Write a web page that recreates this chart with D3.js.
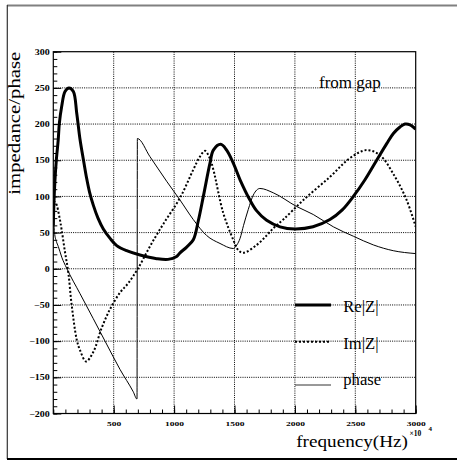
<!DOCTYPE html>
<html>
<head>
<meta charset="utf-8">
<script src="https://cdn.jsdelivr.net/npm/d3@7"></script>
<style>
  html, body { margin: 0; padding: 0; background: #fff; }
  svg { display: block; }
  text { font-family: "Liberation Serif", "DejaVu Serif", serif; fill: #000; }
</style>
</head>
<body>
<svg id="chart" width="457" height="460"></svg>
<script>
// ---------------- data ----------------
const reFreq = [0, 5, 14, 25, 41, 50, 69, 97, 130, 166, 194, 221, 250, 276, 300, 331, 370, 414, 470, 525, 607, 718, 856, 950, 1021, 1049, 1104, 1159, 1200, 1242, 1297, 1325, 1386, 1435, 1490, 1546, 1628, 1684, 1766, 1877, 2001, 2150, 2290, 2390, 2484, 2580, 2677, 2760, 2815, 2870, 2911, 2953, 3000];
const reVal  = [60, 90, 123, 150, 179, 201, 224, 245, 250, 245, 215, 179, 150, 125, 106, 88, 70, 55, 42, 32, 25, 19, 14, 13, 17, 22, 30, 40, 66, 100, 146, 164, 172, 164, 146, 123, 95, 80, 67, 58, 55, 58, 68, 81, 100, 123, 150, 173, 187, 196, 200, 199, 193];

const imFreq = [0, 14, 28, 50, 69, 95, 124, 152, 194, 220, 271, 331, 400, 469, 552, 620, 703, 800, 911, 1049, 1159, 1214, 1256, 1297, 1325, 1407, 1490, 1530, 1573, 1684, 1766, 1821, 1904, 2070, 2290, 2456, 2594, 2704, 2829, 2925, 3000];
const imVal  = [92, 92, 88, 72, 54, 25, -5, -50, -98, -112, -128, -115, -82, -56, -33, -20, 1, 31, 62, 98, 137, 155, 163, 152, 137, 77, 40, 26, 22, 33, 46, 56, 68, 95, 127, 153, 164, 157, 127, 95, 58];

const phFreq = [0, 4, 10, 25, 41, 70, 110, 220, 331, 441, 552, 662, 693, 696, 800, 938, 1049, 1159, 1269, 1380, 1490, 1520, 1546, 1575, 1614, 1656, 1711, 1821, 2015, 2152, 2318, 2484, 2649, 2814, 3000];
const phVal  = [95, 70, 50, 38, 31, 16, 1, -34, -69, -104, -139, -170, -180, 180, 155, 121, 95, 68, 46, 35, 28, 33, 42, 60, 82, 102, 111, 105, 86, 75, 58, 45, 33, 25, 21];

const xMajorTicks = [500, 1000, 1500, 2000, 2500, 3000];
const yMajorTicks = [-200, -150, -100, -50, 0, 50, 100, 150, 200, 250, 300];
const legendLabels = ["Re|Z|", "Im|Z|", "phase"];

// ---------------- layout ----------------
const svg = d3.select("#chart");
const L = 53.3, R = 415.7, T = 51.7, B = 413.5;
const x = d3.scaleLinear().domain([0, 3000]).range([L, R]);
const y = d3.scaleLinear().domain([-200, 300]).range([B, T]);

svg.append("rect").attr("width", 457).attr("height", 460).attr("fill", "#fff");

// canvas border (ROOT style)
svg.append("line").attr("x1", 7).attr("x2", 457).attr("y1", 5.5).attr("y2", 5.5)
  .attr("stroke", "#808080").attr("stroke-width", 2);
svg.append("line").attr("x1", 7.3).attr("x2", 7.3).attr("y1", 5).attr("y2", 459)
  .attr("stroke", "#333").attr("stroke-width", 1.2);
svg.append("line").attr("x1", 7).attr("x2", 457).attr("y1", 459).attr("y2", 459)
  .attr("stroke", "#000").attr("stroke-width", 2);

// grid
const grid = svg.append("g").attr("stroke", "#000").attr("stroke-width", 1)
  .attr("stroke-dasharray", "1,1.2");
grid.selectAll(".gx").data(xMajorTicks.filter(d => d < 3000)).join("line")
  .attr("x1", d => x(d)).attr("x2", d => x(d)).attr("y1", T).attr("y2", B);
grid.selectAll(".gy").data(yMajorTicks.filter(d => d > -200 && d < 300)).join("line")
  .attr("x1", L).attr("x2", R).attr("y1", d => y(d)).attr("y2", d => y(d));

// axes: minor + major ticks pointing inward
const xMinor = d3.range(0, 3001, 100);
const yMinor = d3.range(-200, 301, 10);
function styleAxis(g) {
  g.select(".domain").remove();
  g.selectAll(".tick line").attr("stroke", "#000").attr("stroke-width", 1);
}
svg.append("g").attr("transform", `translate(0,${B})`)
  .call(d3.axisBottom(x).tickValues(xMinor).tickSize(-4).tickFormat(""))
  .call(styleAxis).selectAll("text").remove();
svg.append("g").attr("transform", `translate(${L},0)`)
  .call(d3.axisLeft(y).tickValues(yMinor).tickSize(-4).tickFormat(""))
  .call(styleAxis).selectAll("text").remove();

const xAx = svg.append("g").attr("transform", `translate(0,${B})`)
  .call(d3.axisBottom(x).tickValues(xMajorTicks).tickSize(-8).tickPadding(0).tickFormat(d3.format("d")))
  .call(styleAxis);
xAx.selectAll(".tick text")
  .attr("font-family", "Liberation Serif").attr("font-weight", "bold").attr("font-size", 9.5)
  .attr("dy", null).attr("y", 12.5 / 0.74).attr("transform", "scale(1,0.74)");

const yAx = svg.append("g").attr("transform", `translate(${L},0)`)
  .call(d3.axisLeft(y).tickValues(yMajorTicks).tickSize(-8).tickPadding(0).tickFormat(d3.format("d")))
  .call(styleAxis);
yAx.selectAll(".tick text")
  .attr("font-family", "Liberation Serif").attr("font-weight", "bold").attr("font-size", 10)
  .attr("x", -3.5).attr("dy", null).attr("y", 2.6 / 0.74).attr("transform", "scale(1,0.74)");

// plot frame
svg.append("rect").attr("x", L).attr("y", T).attr("width", R - L).attr("height", B - T)
  .attr("fill", "none").attr("stroke", "#000").attr("stroke-width", 1.2);

// curves
svg.append("clipPath").attr("id", "clip").append("rect")
  .attr("x", L).attr("y", T).attr("width", R - L).attr("height", B - T);
const smooth = d3.line().x(d => x(d[0])).y(d => y(d[1])).curve(d3.curveCatmullRom.alpha(0.5));
const mono = d3.line().x(d => x(d[0])).y(d => y(d[1])).curve(d3.curveMonotoneX);
const plot = svg.append("g").attr("clip-path", "url(#clip)");
plot.append("path").datum(d3.zip(phFreq, phVal)).attr("d", mono)
  .attr("fill", "none").attr("stroke", "#000").attr("stroke-width", 1);
plot.append("path").datum(d3.zip(imFreq, imVal)).attr("d", smooth)
  .attr("fill", "none").attr("stroke", "#000").attr("stroke-width", 2).attr("stroke-dasharray", "2,2");
plot.append("path").datum(d3.zip(reFreq, reVal)).attr("d", smooth)
  .attr("fill", "none").attr("stroke", "#000").attr("stroke-width", 3);

// legend
const legStyles = [
  { w: 3, dash: null, ly: 305, ty: 312, c: "#000" },
  { w: 2, dash: "2,2", ly: 341.7, ty: 349, c: "#000" },
  { w: 1, dash: null, ly: 385, ty: 385, c: "#333" }
];
const leg = svg.append("g");
legendLabels.forEach((lab, i) => {
  const s = legStyles[i];
  leg.append("line").attr("x1", 295).attr("x2", 331).attr("y1", s.ly).attr("y2", s.ly)
    .attr("stroke", s.c).attr("stroke-width", s.w).attr("stroke-dasharray", s.dash);
  leg.append("text").attr("x", 343.3).attr("y", s.ty).attr("font-size", 16.6).text(lab);
});

// annotation
svg.append("text").attr("x", 319).attr("y", 88.3).attr("font-size", 17).text("from gap");

// axis titles
svg.append("g").attr("transform", "translate(20,51.7) rotate(-90) scale(1,0.81)")
  .append("text").attr("text-anchor", "end").attr("font-size", 20.8).text("impedance/phase");
svg.append("g").attr("transform", "translate(408,447) scale(1,0.85)")
  .append("text").attr("text-anchor", "end").attr("font-size", 19.2).text("frequency(Hz)");
svg.append("text").attr("x", 409.5).attr("y", 435.5).attr("font-size", 7.5).attr("font-weight", "bold").text("\u00d710");
svg.append("text").attr("x", 428.5).attr("y", 431).attr("font-size", 7).attr("font-weight", "bold").text("4");
</script>
</body>
</html>
